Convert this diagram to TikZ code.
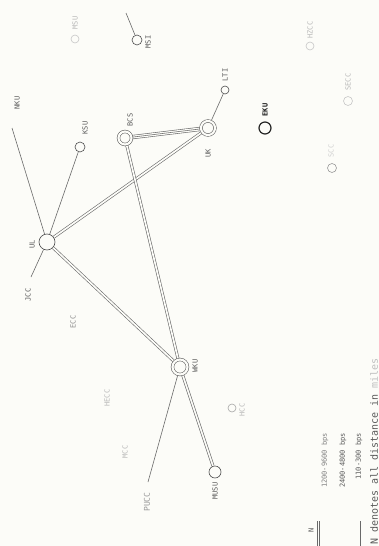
\documentclass[tikz,border=0pt]{standalone}
\usepackage{fontspec}
\setmonofont{DejaVu Sans Mono}
\usetikzlibrary{backgrounds}
\definecolor{paper}{RGB}{252,252,248}
\definecolor{ink}{RGB}{90,90,90}
\definecolor{wire}{RGB}{105,105,105}
\begin{document}
\begin{tikzpicture}[x=1pt,y=-1pt,
  lab/.style={font=\ttfamily\fontsize{7}{8}\selectfont, rotate=90, text=ink, inner sep=0pt},
  faint/.style={lab, text=black!28},
  sline/.style={draw=wire, line width=0.6pt},
  dline/.style={draw=paper, line width=1.7pt, preaction={draw=wire, line width=2.9pt}},
  tline/.style={draw=paper, line width=3.0pt, preaction={draw=wire, line width=4.2pt}, postaction={draw=wire, line width=0.55pt}},
  site/.style={circle, draw=black!70, line width=0.6pt, fill=paper, inner sep=0pt, minimum size=#1},
  hub/.style={circle, draw=black!65, line width=0.55pt, double=paper, double distance=2.2pt, fill=paper, inner sep=0pt, minimum size=#1},
  ghost/.style={circle, draw=black!22, line width=0.6pt, inner sep=0pt, minimum size=#1}
]
\begin{scope}[on background layer]
\fill[paper] (0,0) rectangle (379,546);
\end{scope}
\useasboundingbox (0,0) rectangle (379,546);

% sites
\node[site=16] (UL) at (47,242) {};
\node[hub=13] (BCS) at (125,138) {};
\node[hub=14] (UK) at (208,128) {};
\node[hub=15] (WKU) at (180,367) {};
\node[site=10] (KSU) at (80,147) {};
\node[site=10] (MSI) at (137,40) {};
\node[site=8] (LTI) at (225,90) {};
\node[site=12, line width=1.2pt, draw=black!85] (EKU) at (265,128) {};
\node[site=12] (MUSU) at (215,472) {};
\node[ghost=8, draw=black!35] (HCC) at (232,408) {};
\node[ghost=9, draw=black!40] (SCC) at (332,168) {};
\node[ghost=9] (SECC) at (348,101) {};
\node[ghost=8] (HZCC) at (310,46) {};
\node[ghost=8] (MSU) at (75,39) {};

% free line ends
\coordinate (NKUend) at (12,128);
\coordinate (JCCend) at (31,277);
\coordinate (PUCCend) at (148,482);
\coordinate (MSIend) at (126,13);

% connectors
\begin{scope}[on background layer]
\draw[sline] (UL) -- (NKUend);
\draw[sline] (UL) -- (KSU);
\draw[sline] (UL) -- (JCCend);
\draw[dline] (UL) -- (UK);
\draw[dline] (UL) -- (WKU);
\draw[dline] (BCS) -- (WKU);
\draw[tline] (BCS) -- (UK);
\draw[sline] (UK) -- (LTI);
\draw[sline] (MSI) -- (MSIend);
\draw[sline] (WKU) -- (PUCCend);
\draw[dline] (WKU) -- (MUSU);
\end{scope}

% labels
\node[lab] (tNKU) at (17,103) {NKU};
\node[lab] (tKSU) at (85,128) {KSU};
\node[lab] (tBCS) at (130,120) {BCS};
\node[lab] (tMSI) at (148,42) {MSI};
\node[faint] (tMSU) at (75,23) {MSU};
\node[lab] (tUL) at (32,244) {UL};
\node[lab] (tJCC) at (28,295) {JCC};
\node[lab, text=black!45] (tECC) at (73,322) {ECC};
\node[faint] (tHECC) at (107,398) {HECC};
\node[faint] (tMCC) at (125,452) {MCC};
\node[lab, text=black!40, font=\ttfamily\fontsize{8}{9}\selectfont] (tPUCC) at (147,502) {PUCC};
\node[lab] (tWKU) at (195,366) {WKU};
\node[faint] (tHCC) at (242,410) {HCC};
\node[lab] (tMUSU) at (215,491) {MUSU};
\node[lab] (tUK) at (208,153) {UK};
\node[lab] (tLTI) at (225,75) {LTI};
\node[lab, text=black!90, font=\ttfamily\bfseries\fontsize{7}{8}\selectfont] (tEKU) at (265,110) {EKU};
\node[faint] (tHZCC) at (310,30) {HZCC};
\node[faint] (tSECC) at (348,82) {SECC};
\node[faint, text=black!18] (tSCC) at (331,151) {SCC};

% legend
\node[lab] (tN) at (311,530) {N};
\coordinate (k1a) at (319,521); \coordinate (k1b) at (319,546);
\coordinate (k2a) at (341,521); \coordinate (k2b) at (341,546);
\coordinate (k3a) at (360,521); \coordinate (k3b) at (360,546);
\draw[tline] (k1a) -- (k1b);
\draw[dline] (k2a) -- (k2b);
\draw[sline] (k3a) -- (k3b);
\node[lab, anchor=east, text=black!50] (t1) at (325,433) {1200-9600 bps};
\node[lab, anchor=east] (t2) at (343,433) {2400-4800 bps};
\node[lab, anchor=east] (t3) at (359,433) {110-300 bps};
\node[lab, anchor=west, font=\ttfamily\fontsize{10}{11}\selectfont] (tnote) at (374,545) {N denotes all distance in \textcolor{black!25}{miles}};
\end{tikzpicture}
\end{document}
